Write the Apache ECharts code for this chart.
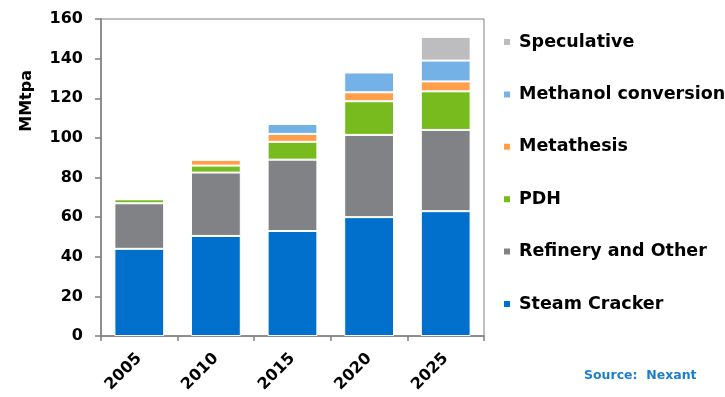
<!DOCTYPE html>
<html>
<head>
<meta charset="utf-8">
<script src="https://cdn.jsdelivr.net/npm/echarts@6/dist/echarts.min.js"></script>
<style>html,body{margin:0;padding:0;background:#fff}#c{width:725px;height:397px}</style>
</head>
<body>
<div id="c"></div>
<script>
var categories = ['2005', '2010', '2015', '2020', '2025'];
var steamCracker = [44, 50.5, 53, 60, 63];
var refineryOther = [23, 32, 36, 41.5, 41];
var pdh = [2, 3.5, 9, 17, 19.5];
var metathesis = [0, 3, 4, 4.5, 5];
var methanolConversion = [0, 0, 5, 10, 10.5];
var speculative = [0, 0, 0, 0, 12];
var yTicks = [0, 20, 40, 60, 80, 100, 120, 140, 160];

var seriesDefs = [
  ['Steam Cracker', steamCracker, '#0070CC'],
  ['Refinery and Other', refineryOther, '#808285'],
  ['PDH', pdh, '#77BB1F'],
  ['Metathesis', metathesis, '#FF9F4A'],
  ['Methanol conversion', methanolConversion, '#74B1E6'],
  ['Speculative', speculative, '#BDBDBF']
];

var chart = echarts.init(document.getElementById('c'), null, {renderer: 'canvas'});
var font = '"DejaVu Sans", sans-serif';
chart.setOption({
  animation: false,
  textStyle: {fontFamily: font},
  grid: {left: 101, right: 241, top: 19, bottom: 61, show: true, borderColor: '#7f7f7f', borderWidth: 1},
  legend: {
    orient: 'vertical',
    left: 497,
    top: 27,
    padding: 5,
    itemWidth: 8,
    itemHeight: 8,
    itemGap: 32.4,
    icon: 'rect',
    data: seriesDefs.map(function (s) { return s[0]; }).reverse(),
    textStyle: {fontFamily: font, fontSize: 17.5, lineHeight: 20, fontWeight: 'bold', color: '#000', padding: [0, 0, 0, 3]}
  },
  xAxis: {
    type: 'category',
    data: categories,
    axisLine: {lineStyle: {color: '#7f7f7f', width: 1.5}},
    axisTick: {show: true, length: 5, lineStyle: {color: '#7f7f7f', width: 1.5}},
    axisLabel: {rotate: 45, fontSize: 16, fontWeight: 'bold', color: '#000', fontFamily: font, margin: 20}
  },
  yAxis: {
    type: 'value',
    min: yTicks[0],
    max: yTicks[yTicks.length - 1],
    interval: 20,
    splitLine: {show: false},
    axisLine: {show: true, lineStyle: {color: '#7f7f7f', width: 1.5}},
    axisTick: {show: true, length: 6, lineStyle: {color: '#7f7f7f', width: 1.5}},
    axisLabel: {fontSize: 16, fontWeight: 'bold', color: '#000', fontFamily: font, margin: 18}
  },
  graphic: [
    {type: 'text', left: 19, top: 70, rotation: Math.PI / 2,
     style: {text: 'MMtpa', font: 'bold 16px ' + font, fill: '#000'}},
    {type: 'text', left: 584, top: 369,
     style: {text: 'Source:  Nexant', font: 'bold 12.5px ' + font, fill: '#1A7ED0'}}
  ],
  series: seriesDefs.map(function (s) {
    return {
      name: s[0], type: 'bar', stack: 'total', data: s[1],
      barWidth: '65%',
      itemStyle: {color: s[2], borderColor: '#fff', borderWidth: 1}
    };
  })
});
</script>
</body>
</html>
